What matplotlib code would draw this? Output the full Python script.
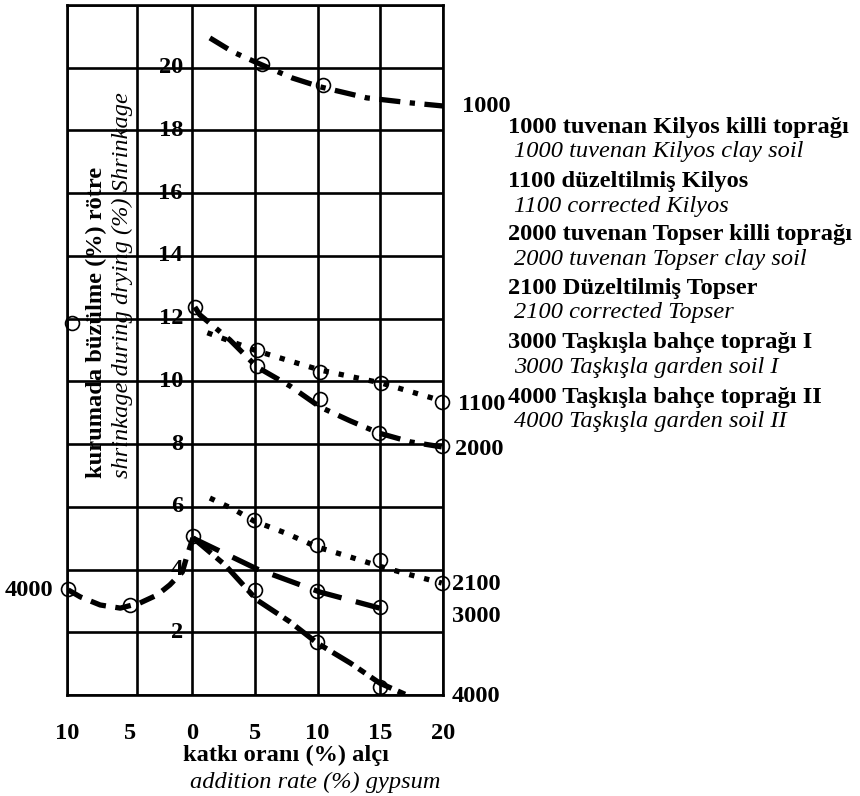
import matplotlib
matplotlib.use("Agg")
import matplotlib.pyplot as plt

W, H = 860, 796
SERIF = ['Liberation Serif', 'DejaVu Serif']
plt.rcParams['font.family'] = SERIF
FS = 17.6

# axis ticks / grid
x_ticks = [-10, -5, 0, 5, 10, 15, 20]
x_tick_labels = ['10', '5', '0', '5', '10', '15', '20']
x_grid = [-10, -4.4, 0, 5, 10, 15, 20]
y_ticks = [2, 4, 6, 8, 10, 12, 14, 16, 18, 20]
y_grid = [0, 2, 4, 6, 8, 10, 12, 14, 16, 18, 20, 22]

# curves
c1000_x = [1.4, 3.25, 5.55, 8.0, 10.2, 13.9, 17.4, 20.0]
c1000_y = [20.95, 20.5, 20.09, 19.67, 19.39, 19.04, 18.88, 18.78]
c1100_x = [1.2, 5.15, 7.8, 10.2, 15.05, 19.9]
c1100_y = [11.55, 10.97, 10.65, 10.36, 9.95, 9.38]
c2000_x = [0.2, 0.6, 3.0, 5.15, 7.8, 10.2, 12.6, 14.9, 17.4, 19.9]
c2000_y = [12.37, 12.12, 11.32, 10.46, 9.85, 9.18, 8.74, 8.35, 8.07, 7.91]
c2100_x = [1.4, 3.4, 4.9, 7.4, 9.95, 12.6, 14.9, 17.4, 19.9]
c2100_y = [6.28, 5.9, 5.55, 5.17, 4.72, 4.4, 4.11, 3.83, 3.57]
c3000_x = [0.05, 5.15, 10.2, 14.95]
c3000_y = [5.0, 4.02, 3.28, 2.77]
c4000a_x = [-9.9, -8.95, -7.35, -5.75, -4.2, -2.8, -1.8, -0.8, -0.45, 0.05]
c4000a_y = [3.35, 3.13, 2.87, 2.77, 2.93, 3.19, 3.51, 3.92, 4.4, 5.01]
c4000b_x = [0.05, 2.6, 5.15, 7.8, 9.95, 12.6, 14.95, 17.1]
c4000b_y = [5.01, 4.15, 3.03, 2.33, 1.66, 1.02, 0.38, 0.0]

# measured points (open circles)
pts_x = [5.55, 10.4, 5.15, 10.2, 15.05, 19.9, 0.2, 5.15, 10.2, 14.9, 19.9,
         4.9, 9.95, 14.95, 19.9, 0.05, 9.95, 14.95, 5.0, 9.95, 14.95,
         -9.95, -4.95, -9.6]
pts_y = [20.12, 19.45, 11.0, 10.3, 9.95, 9.34, 12.37, 10.49, 9.44, 8.35, 7.94,
         5.58, 4.78, 4.3, 3.57, 5.08, 3.32, 2.81, 3.35, 1.69, 0.26,
         3.38, 2.87, 11.86]

# end labels of the curves: (text, x px, baseline px)
end_labels = [('1000', 462, 112), ('1100', 458, 410), ('2000', 455, 455),
              ('2100', 452, 590), ('3000', 452, 622), ('4000', 452, 702),
              ('4000', 5, 596)]

legend_bold = ['1000 tuvenan Kilyos killi toprağı', '1100 düzeltilmiş Kilyos',
               '2000 tuvenan Topser killi toprağı', '2100 Düzeltilmiş Topser',
               '3000 Taşkışla bahçe toprağı I', '4000 Taşkışla bahçe toprağı II']
legend_italic = ['1000 tuvenan Kilyos clay soil', '1100 corrected Kilyos',
                 '2000 tuvenan Topser clay soil', '2100 corrected Topser',
                 '3000 Taşkışla garden soil I', '4000 Taşkışla garden soil II']
legend_bold_y = [133, 187, 240, 294, 348, 403]
legend_italic_y = [157, 212, 265, 318, 373, 427]


def fx(px):
    return px / W


def fy(py):
    return 1 - py / H


fig = plt.figure(figsize=(W / 100, H / 100), dpi=100)
ax = fig.add_axes([fx(67), fy(695), (443 - 67) / W, (695 - 5) / H])
ax.set_xlim(-10, 20)
ax.set_ylim(0, 22)

for gx in x_grid:
    ax.axvline(gx, color='black', lw=1.9, zorder=1)
for gy in y_grid:
    ax.axhline(gy, color='black', lw=1.9, zorder=1)
for s in ax.spines.values():
    s.set_linewidth(1.9)

ax.set_xticks(x_ticks)
ax.set_xticklabels(x_tick_labels, fontsize=FS, fontweight='bold')
ax.tick_params(axis='x', length=0, pad=20)
ax.set_yticks([])

# y values are written inside the grid, crossed by the grid lines
for v in y_ticks:
    ax.text(-0.75, v, str(v), ha='right', va='center', fontsize=FS,
            fontweight='bold', zorder=0.5)

ax.text(fx(96), fy(478), 'kurumada büzülme (%) rötre', rotation=90,
        ha='center', va='bottom', fontsize=FS, fontweight='bold',
        transform=fig.transFigure, zorder=0.5)
ax.text(fx(122), fy(478), 'shrinkage during drying (%) Shrinkage', rotation=90,
        ha='center', va='bottom', fontsize=FS, style='italic',
        transform=fig.transFigure, zorder=0.5)

lw = 3.8
dashdot = (0, (4, 1.8, 1, 1.8))
dotted = (0, (1.0, 1.9))
ax.plot(c1000_x, c1000_y, color='black', lw=lw, ls=dashdot, zorder=3)
ax.plot(c1100_x, c1100_y, color='black', lw=lw, ls=dotted, zorder=3)
ax.plot(c2000_x, c2000_y, color='black', lw=lw, ls=dashdot, zorder=3)
ax.plot(c2100_x, c2100_y, color='black', lw=lw, ls=dotted, zorder=3)
ax.plot(c3000_x, c3000_y, color='black', lw=lw, ls=(0, (5.5, 2.8)), zorder=3)
ax.plot(c4000a_x, c4000a_y, color='black', lw=lw, ls=(0, (3, 1.8)), zorder=3)
ax.plot(c4000b_x, c4000b_y, color='black', lw=lw, ls=(0, (4.5, 1.3, 1.5, 1.3)), zorder=3)
ax.plot(pts_x, pts_y, ls='none', marker='o', ms=10, mfc='none', mec='black',
        mew=1.2, zorder=4, clip_on=False)

for txt, px, py in end_labels:
    fig.text(fx(px), fy(py), txt, ha='left', va='baseline', fontsize=FS,
             fontweight='bold')

for txt, py in zip(legend_bold, legend_bold_y):
    fig.text(fx(508), fy(py), txt, ha='left', va='baseline', fontsize=FS,
             fontweight='bold')
for txt, py in zip(legend_italic, legend_italic_y):
    fig.text(fx(514), fy(py), txt, ha='left', va='baseline', fontsize=FS,
             style='italic')

fig.text(fx(286), fy(755), 'katkı oranı (%) alçı', ha='center', va='center',
         fontsize=FS, fontweight='bold')
fig.text(fx(315), fy(782), 'addition rate (%) gypsum', ha='center', va='center',
         fontsize=FS, style='italic')

fig.savefig('out.png', dpi=100)
